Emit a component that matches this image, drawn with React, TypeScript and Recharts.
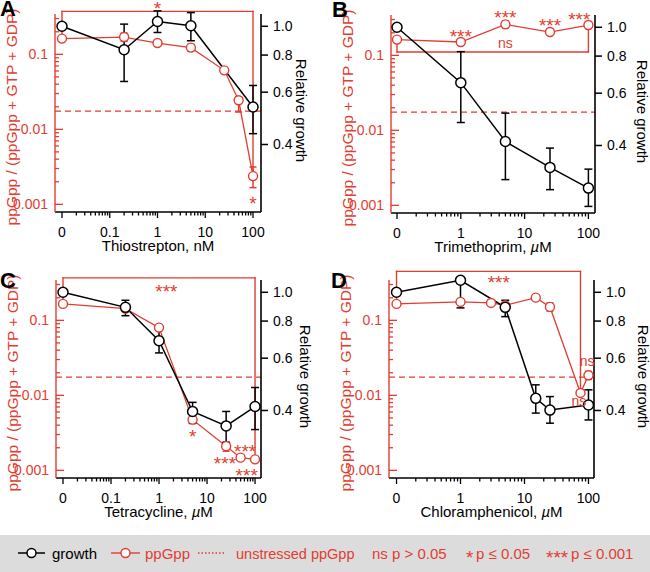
import React from "react";
import { ComposedChart, Line, XAxis, YAxis, ReferenceLine, ReferenceDot } from "recharts";

const RED = "#e23d30";
const FONT = "'Liberation Sans', Arial, Helvetica, sans-serif";

// A — thiostrepton, nM
const thioPpDose = [0, 0.2, 1, 5, 25, 50, 100];
const thioPp = [0.162, 0.17, 0.1415, 0.123, 0.0612, 0.0244, 0.00238];
const thioPpLo = [0.157, 0.149, 0.137, 0.11, 0.059, 0.017, 0.00167];
const thioPpHi = [0.167, 0.192, 0.146, 0.136, 0.0635, 0.027, 0.00315];
const thioGrowthDose = [0, 0.2, 1, 5, 100];
const thioGrowth = [1.0, 0.834, 1.038, 1.004, 0.535];
const thioGrowthLo = [0.992, 0.652, 0.953, 0.894, 0.435];
const thioGrowthHi = [1.008, 1.017, 1.127, 1.112, 0.632];
const thioBracketDose = [0, 0, 100, 100];
const thioBracketY = [0.162, 0.374, 0.374, 0.00238];
const thioNoteText = ["*", "*"];
const thioNoteDose = [1, 100];
const thioNoteY = [0.464, 0.00116];

// B — trimethoprim, µM
const trimPpDose = [0, 1, 5, 25, 100];
const trimPp = [0.162, 0.1505, 0.259, 0.2046, 0.2535];
const trimPpLo = [0.157, 0.146, 0.232, 0.198, 0.228];
const trimPpHi = [0.167, 0.155, 0.288, 0.211, 0.282];
const trimGrowthDose = [0, 1, 5, 25, 100];
const trimGrowth = [1.0, 0.651, 0.4125, 0.3375, 0.2875];
const trimGrowthLo = [0.992, 0.478, 0.307, 0.284, 0.2494];
const trimGrowthHi = [1.008, 0.828, 0.514, 0.392, 0.333];
const trimBracketDose = [0, 0, 100, 100];
const trimBracketY = [0.162, 0.1107, 0.1107, 0.2535];
const trimNoteText = ["***", "***", "***", "***", "ns"];
const trimNoteDose = [1, 5, 25, 72, 5];
const trimNoteY = [0.2045, 0.366, 0.286, 0.341, 0.14];

// C — tetracycline, µM
const tetPpDose = [0, 0.2, 1, 5, 25, 50, 100];
const tetPp = [0.1655, 0.143, 0.08, 0.00474, 0.0021, 0.001476, 0.0014];
const tetPpLo = [0.16, 0.138, 0.077, 0.0042, 0.0018, 0.00142, 0.00135];
const tetPpHi = [0.171, 0.148, 0.083, 0.0053, 0.0024, 0.00153, 0.00145];
const tetGrowthDose = [0, 0.2, 1, 5, 25, 100];
const tetGrowth = [1.0, 0.89, 0.687, 0.397, 0.355, 0.4125];
const tetGrowthLo = [0.992, 0.834, 0.625, 0.363, 0.312, 0.345];
const tetGrowthHi = [1.008, 0.94, 0.748, 0.426, 0.397, 0.478];
const tetBracketDose = [0, 0, 100, 100];
const tetBracketY = [0.1655, 0.368, 0.368, 0.0014];
const tetNoteText = ["***", "*", "***", "***", "***"];
const tetNoteDose = [1.42, 5, 62, 23.6, 67];
const tetNoteY = [0.279, 0.00325, 0.00205, 0.00143, 0.00098];

// D — chloramphenicol, µM
const chlPpDose = [0, 1, 3, 5, 15, 25, 75, 100];
const chlPp = [0.1655, 0.176, 0.1706, 0.1585, 0.2008, 0.151, 0.01076, 0.0185];
const chlPpLo = [0.16, 0.158, 0.165, 0.153, 0.194, 0.133, 0.0104, 0.0163];
const chlPpHi = [0.171, 0.195, 0.176, 0.164, 0.207, 0.171, 0.0111, 0.0209];
const chlGrowthDose = [0, 1, 5, 15, 25, 100];
const chlGrowth = [1.0, 1.098, 0.89, 0.4396, 0.4013, 0.4172];
const chlGrowthLo = [0.992, 0.886, 0.828, 0.392, 0.3625, 0.3717];
const chlGrowthHi = [1.008, 1.105, 0.94, 0.488, 0.4455, 0.4695];
const chlBracketDose = [0, 0, 75, 75];
const chlBracketY = [0.1655, 0.45, 0.45, 0.01076];
const chlNoteText = ["***", "ns", "ns"];
const chlNoteDose = [3.97, 95.5, 70.8];
const chlNoteY = [0.368, 0.0279, 0.00817];

const unstressedPpGpp = 0.0175;

// axis ticks
const ppMajor = [0.001, 0.01, 0.1];
const ppMajorLabels = ["0.001", "0.01", "0.1"];
const ppMinor = [
  0.002, 0.003, 0.004, 0.005, 0.006, 0.007, 0.008, 0.009,
  0.02, 0.03, 0.04, 0.05, 0.06, 0.07, 0.08, 0.09, 0.2, 0.3,
];
const growthTicks = [0.4, 0.6, 0.8, 1.0];
const growthLabels = ["0.4", "0.6", "0.8", "1.0"];
const fineMajor = [0.01, 0.1, 1, 10, 100];
const fineLabels = ["0", "0.1", "1", "10", "100"];
const fineMinor = [
  0.02, 0.03, 0.04, 0.05, 0.06, 0.07, 0.08, 0.09,
  0.2, 0.3, 0.4, 0.5, 0.6, 0.7, 0.8, 0.9,
  2, 3, 4, 5, 6, 7, 8, 9, 20, 30, 40, 50, 60, 70, 80, 90,
];
const coarseMajor = [0.1, 1, 10, 100];
const coarseLabels = ["0", "1", "10", "100"];
const coarseMinor = [
  0.2, 0.3, 0.4, 0.5, 0.6, 0.7, 0.8, 0.9,
  2, 3, 4, 5, 6, 7, 8, 9, 20, 30, 40, 50, 60, 70, 80, 90,
];

const findMajor = (majors: number[], v: number) =>
  majors.findIndex((m) => Math.abs(m - v) < m * 1e-6);

const xTick = (majors: number[], labels: string[]) => (props: any) => {
  const { x, y, payload } = props;
  const i = findMajor(majors, payload.value);
  return (
    <g>
      <line x1={x} x2={x} y1={y} y2={y + (i >= 0 ? 6 : 3.5)} stroke="#000" strokeWidth={1.3} />
      {i >= 0 && (
        <text x={x} y={y + 25} textAnchor="middle" fontSize={14} fontFamily={FONT} fill="#000">
          {labels[i]}
        </text>
      )}
    </g>
  );
};

const ppTick = (props: any) => {
  const { x, y, payload } = props;
  const i = findMajor(ppMajor, payload.value);
  return (
    <g>
      <line x1={x} x2={x + (i >= 0 ? 8 : 4)} y1={y} y2={y} stroke={RED} strokeWidth={1.3} />
      {i >= 0 && (
        <text x={x - 7} y={y} dy="0.35em" textAnchor="end" fontSize={14} fontFamily={FONT} fill={RED}>
          {ppMajorLabels[i]}
        </text>
      )}
    </g>
  );
};

const growthTick = (props: any) => {
  const { x, y, payload } = props;
  const i = findMajor(growthTicks, payload.value);
  return (
    <g>
      <line x1={x} x2={x + 7} y1={y} y2={y} stroke="#000" strokeWidth={1.5} />
      <text x={x + 12} y={y} dy="0.35em" fontSize={14} fontFamily={FONT} fill="#000">
        {growthLabels[i]}
      </text>
    </g>
  );
};

const errShape = (color: string, half: number) => (p: any) => (
  <g stroke={color} strokeWidth={1.5}>
    <line x1={p.x1} y1={p.y1} x2={p.x2} y2={p.y2} />
    <line x1={p.x1 - half} x2={p.x1 + half} y1={p.y1} y2={p.y1} />
    <line x1={p.x2 - half} x2={p.x2 + half} y1={p.y2} y2={p.y2} />
  </g>
);

const bracketShape = (p: any) => (
  <line x1={p.x1} y1={p.y1} x2={p.x2} y2={p.y2} stroke={RED} strokeWidth={1.4} strokeLinecap="square" />
);

const noteShape = (text: string) => (p: any) => {
  const star = text.includes("*");
  return (
    <text
      x={p.cx}
      y={p.cy + (star ? 10.9 : 3.6)}
      textAnchor="middle"
      fontSize={star ? 19 : 14}
      fontFamily={FONT}
      fill={RED}
    >
      {text}
    </text>
  );
};

type PanelProps = {
  left: number;
  top: number;
  width: number;
  height: number;
  plotTop: number;
  leftW: number;
  rightW: number;
  xAxisH: number;
  zeroAt: number;
  xDomain: [number, number];
  xMajor: number[];
  xLabels: string[];
  xMinor: number[];
  xTitle: React.ReactNode;
  growthGap: number;
  ppDose: number[];
  pp: number[];
  ppLo: number[];
  ppHi: number[];
  gDose: number[];
  g: number[];
  gLo: number[];
  gHi: number[];
  bDose: number[];
  bY: number[];
  nText: string[];
  nDose: number[];
  nY: number[];
};

function Panel(p: PanelProps) {
  const toX = (d: number) => (d === 0 ? p.zeroAt : d);
  const ppRows = p.ppDose.map((d, i) => ({ x: toX(d), y: p.pp[i], lo: p.ppLo[i], hi: p.ppHi[i] }));
  const gRows = p.gDose.map((d, i) => ({ x: toX(d), y: p.g[i], lo: p.gLo[i], hi: p.gHi[i] }));
  const bracket = p.bDose.map((d, i) => ({ x: toX(d), y: p.bY[i] }));

  return (
    <div style={{ position: "absolute", left: p.left, top: p.top }}>
      <ComposedChart
        width={p.width}
        height={p.height}
        margin={{ top: p.plotTop, right: 0, bottom: 0, left: 0 }}
      >
        <XAxis
          type="number"
          dataKey="x"
          scale="log"
          domain={p.xDomain}
          ticks={[...p.xMajor, ...p.xMinor]}
          interval={0}
          tickLine={false}
          tickSize={0}
          tickMargin={0}
          tick={xTick(p.xMajor, p.xLabels)}
          axisLine={{ stroke: "#000", strokeWidth: 1.6 }}
          height={p.xAxisH}
          label={(lp: any) => {
            const vb = lp.viewBox;
            return (
              <text x={vb.x + vb.width / 2} y={vb.y + 39} textAnchor="middle" fontSize={15} fontFamily={FONT} fill="#000">
                {p.xTitle}
              </text>
            );
          }}
        />
        <YAxis
          yAxisId="pp"
          type="number"
          scale="log"
          domain={[0.00079, 0.345]}
          ticks={[...ppMajor, ...ppMinor]}
          interval={0}
          tickLine={false}
          tickSize={0}
          tickMargin={0}
          tick={ppTick}
          axisLine={{ stroke: RED, strokeWidth: 1.4 }}
          width={p.leftW}
          label={(lp: any) => {
            const vb = lp.viewBox;
            const cx = vb.x + vb.width - 44;
            const cy = vb.y + vb.height / 2 + 4;
            return (
              <text
                x={cx}
                y={cy}
                transform={`rotate(-90 ${cx} ${cy})`}
                textAnchor="middle"
                dominantBaseline="central"
                fontSize={15.5}
                fontFamily={FONT}
                fill={RED}
              >
                ppGpp / (ppGpp + GTP + GDP)
              </text>
            );
          }}
        />
        <YAxis
          yAxisId="growth"
          orientation="right"
          type="number"
          scale="log"
          domain={[0.237, 1.1]}
          ticks={growthTicks}
          interval={0}
          tickLine={false}
          tickSize={0}
          tickMargin={0}
          tick={growthTick}
          axisLine={{ stroke: "#000", strokeWidth: 1.6 }}
          width={p.rightW}
          label={(lp: any) => {
            const vb = lp.viewBox;
            const cx = vb.x + p.growthGap;
            const cy = vb.y + vb.height / 2 - 2.5;
            return (
              <text
                x={cx}
                y={cy}
                transform={`rotate(90 ${cx} ${cy})`}
                textAnchor="middle"
                dominantBaseline="central"
                fontSize={15}
                fontFamily={FONT}
                fill="#000"
              >
                Relative growth
              </text>
            );
          }}
        />

        <ReferenceLine
          yAxisId="pp"
          y={unstressedPpGpp}
          stroke={RED}
          strokeWidth={1.3}
          strokeDasharray="6 4"
          ifOverflow="visible"
        />
        {bracket.slice(1).map((pt, i) => (
          <ReferenceLine
            key={"b" + i}
            yAxisId="pp"
            segment={[bracket[i], pt]}
            ifOverflow="visible"
            shape={bracketShape}
          />
        ))}

        <Line
          yAxisId="pp"
          data={ppRows}
          dataKey="y"
          stroke={RED}
          strokeWidth={1.3}
          dot={{ r: 4.5, fill: "#fff", stroke: RED, strokeWidth: 1.4 }}
          activeDot={false}
          isAnimationActive={false}
        />
        {ppRows.map((r, i) => (
          <ReferenceLine
            key={"pe" + i}
            yAxisId="pp"
            segment={[{ x: r.x, y: r.lo }, { x: r.x, y: r.hi }]}
            ifOverflow="visible"
            shape={errShape(RED, 3.5)}
          />
        ))}

        <Line
          yAxisId="growth"
          data={gRows}
          dataKey="y"
          stroke="#000"
          strokeWidth={1.5}
          dot={{ r: 5, fill: "#fff", stroke: "#000", strokeWidth: 1.5 }}
          activeDot={false}
          isAnimationActive={false}
        />
        {gRows.map((r, i) => (
          <ReferenceLine
            key={"ge" + i}
            yAxisId="growth"
            segment={[{ x: r.x, y: r.lo }, { x: r.x, y: r.hi }]}
            ifOverflow="visible"
            shape={errShape("#000", 4)}
          />
        ))}

        {p.nText.map((t, i) => (
          <ReferenceDot
            key={"n" + i}
            yAxisId="pp"
            x={toX(p.nDose[i])}
            y={p.nY[i]}
            r={0}
            ifOverflow="visible"
            shape={noteShape(t)}
          />
        ))}
      </ComposedChart>
    </div>
  );
}

const uM = (name: string) => (
  <>
    {name}, <tspan fontStyle="italic">µ</tspan>M
  </>
);

function Overlay() {
  const cy = 553;
  return (
    <svg
      width={650}
      height={572}
      style={{ position: "absolute", left: 0, top: 0, pointerEvents: "none" }}
      fontFamily={FONT}
    >
      <g fontWeight="bold" fontSize={22} fill="#000">
        <text x={0} y={16}>A</text>
        <text x={332} y={17}>B</text>
        <text x={0} y={288}>C</text>
        <text x={331} y={288}>D</text>
      </g>
      <rect x={0} y={535} width={650} height={37} fill="#dcdcdc" />
      <g fontSize={15}>
        <line x1={18} x2={45} y1={cy} y2={cy} stroke="#000" strokeWidth={1.5} />
        <circle cx={31.5} cy={cy} r={4.5} fill="#fff" stroke="#000" strokeWidth={1.5} />
        <text x={52} y={cy + 5.5} fill="#000">growth</text>
        <line x1={111} x2={140} y1={cy} y2={cy} stroke={RED} strokeWidth={1.4} />
        <circle cx={125.5} cy={cy} r={4.5} fill="#fff" stroke={RED} strokeWidth={1.4} />
        <text x={145} y={cy + 5.5} fill={RED}>ppGpp</text>
        <line x1={198} x2={226} y1={cy} y2={cy} stroke={RED} strokeWidth={1.3} strokeDasharray="1.5 2" />
        <text x={236} y={cy + 5.5} fill={RED} fontSize={14.5}>unstressed ppGpp</text>
        <text x={372} y={cy + 5.5} fill={RED}>ns p &gt; 0.05</text>
        <text x={466} y={cy + 11} fill={RED} fontSize={19}>*</text>
        <text x={476} y={cy + 5.5} fill={RED}>p ≤ 0.05</text>
        <text x={546} y={cy + 11} fill={RED} fontSize={19}>***</text>
        <text x={571} y={cy + 5.5} fill={RED}>p ≤ 0.001</text>
      </g>
    </svg>
  );
}

export default function App() {
  return (
    <div style={{ position: "absolute", left: 0, top: 0, width: 650, height: 572, background: "#fff", fontFamily: FONT }}>
      <Panel
        left={0} top={0} width={325} height={260} plotTop={14} leftW={55} rightW={64} xAxisH={48}
        zeroAt={0.01} xDomain={[0.00714, 147]} xMajor={fineMajor} xLabels={fineLabels} xMinor={fineMinor}
        xTitle="Thiostrepton, nM" growthGap={40}
        ppDose={thioPpDose} pp={thioPp} ppLo={thioPpLo} ppHi={thioPpHi}
        gDose={thioGrowthDose} g={thioGrowth} gLo={thioGrowthLo} gHi={thioGrowthHi}
        bDose={thioBracketDose} bY={thioBracketY}
        nText={thioNoteText} nDose={thioNoteDose} nY={thioNoteY}
      />
      <Panel
        left={325} top={0} width={325} height={260} plotTop={15} leftW={66} rightW={55} xAxisH={47}
        zeroAt={0.1} xDomain={[0.0805, 126.9]} xMajor={coarseMajor} xLabels={coarseLabels} xMinor={coarseMinor}
        xTitle={uM("Trimethoprim")} growthGap={47}
        ppDose={trimPpDose} pp={trimPp} ppLo={trimPpLo} ppHi={trimPpHi}
        gDose={trimGrowthDose} g={trimGrowth} gLo={trimGrowthLo} gHi={trimGrowthHi}
        bDose={trimBracketDose} bY={trimBracketY}
        nText={trimNoteText} nDose={trimNoteDose} nY={trimNoteY}
      />
      <Panel
        left={0} top={260} width={325} height={275} plotTop={20} leftW={56} rightW={64} xAxisH={57}
        zeroAt={0.01} xDomain={[0.00715, 133]} xMajor={fineMajor} xLabels={fineLabels} xMinor={fineMinor}
        xTitle={uM("Tetracycline")} growthGap={44}
        ppDose={tetPpDose} pp={tetPp} ppLo={tetPpLo} ppHi={tetPpHi}
        gDose={tetGrowthDose} g={tetGrowth} gLo={tetGrowthLo} gHi={tetGrowthHi}
        bDose={tetBracketDose} bY={tetBracketY}
        nText={tetNoteText} nDose={tetNoteDose} nY={tetNoteY}
      />
      <Panel
        left={325} top={260} width={325} height={275} plotTop={20} leftW={64} rightW={56} xAxisH={57}
        zeroAt={0.1} xDomain={[0.0763, 122]} xMajor={coarseMajor} xLabels={coarseLabels} xMinor={coarseMinor}
        xTitle={uM("Chloramphenicol")} growthGap={49}
        ppDose={chlPpDose} pp={chlPp} ppLo={chlPpLo} ppHi={chlPpHi}
        gDose={chlGrowthDose} g={chlGrowth} gLo={chlGrowthLo} gHi={chlGrowthHi}
        bDose={chlBracketDose} bY={chlBracketY}
        nText={chlNoteText} nDose={chlNoteDose} nY={chlNoteY}
      />
      <Overlay />
    </div>
  );
}
